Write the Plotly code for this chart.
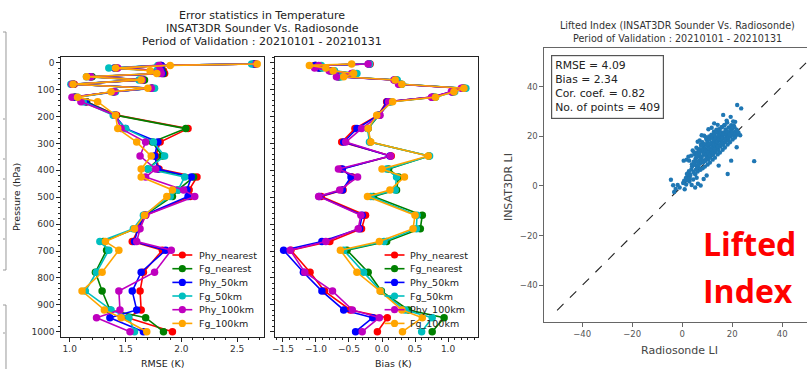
import plotly.graph_objects as go

W, H = 807, 369


def px(x):
    return x / W


def py(y):
    return 1 - y / H


# ---------------- data ----------------
levels = [5, 10, 20, 30, 40, 52, 64, 80, 95, 108, 128, 145, 195, 245, 295, 347, 395,
          425, 473, 497, 567, 617, 665, 697, 779, 849, 919, 948, 1000]

rmse_phy_nearest = [2.66, 1.82, 1.42, 1.84, 1.85, 1.19, 1.66, 1.04, 1.74, 1.40, 1.05, 1.15,
                    1.42, 2.06, 1.81, 1.77, 1.80, 2.14, 2.07, 2.08, 1.68, 1.62, 1.56, 1.83, 1.66, 1.63, 1.64, 1.52, 1.92]
rmse_fg_nearest = [2.66, 1.81, 1.41, 1.83, 1.84, 1.20, 1.67, 1.03, 1.73, 1.39, 1.04, 1.15,
                   1.41, 2.04, 1.74, 1.83, 1.70, 2.11, 1.97, 1.92, 1.67, 1.59, 1.30, 1.33, 1.23, 1.29, 1.36, 1.68, 1.84]
rmse_phy_50km = [2.65, 1.82, 1.40, 1.82, 1.83, 1.18, 1.65, 1.03, 1.74, 1.39, 1.05, 1.14,
                 1.40, 1.50, 1.79, 1.76, 1.79, 2.09, 2.05, 2.06, 1.67, 1.61, 1.58, 1.86, 1.64, 1.56, 1.60, 1.36, 1.66]
rmse_fg_50km = [2.63, 1.79, 1.35, 1.78, 1.80, 1.15, 1.62, 1.01, 1.76, 1.41, 1.07, 1.12,
                1.39, 1.50, 1.75, 1.85, 1.70, 2.03, 1.97, 1.90, 1.66, 1.57, 1.27, 1.35, 1.24, 1.14, 1.37, 1.53, 1.58]
rmse_phy_100km = [2.67, 1.80, 1.43, 1.81, 1.82, 1.19, 1.65, 1.02, 1.73, 1.40, 1.02, 1.10,
                  1.41, 1.46, 1.68, 1.63, 1.77, 1.68, 2.02, 2.12, 1.68, 1.63, 1.60, 1.91, 1.76, 1.44, 1.45, 1.24, 1.54]
rmse_fg_100km = [2.68, 1.90, 1.41, 1.72, 1.78, 1.15, 1.64, 1.03, 1.70, 1.37, 1.07, 1.25,
                 1.41, 1.43, 1.60, 1.73, 1.64, 1.64, 1.92, 1.87, 1.67, 1.58, 1.32, 1.44, 1.29, 1.11, 1.31, 1.46, 1.69]

bias_phy_nearest = [-0.18, -1.02, -0.95, -0.78, -0.45, -0.66, 0.20, 0.27, 1.22, 1.06, 0.76, 0.07,
                    -0.06, -0.41, -0.61, 0.14, -0.62, -0.45, -0.59, -0.92, -0.25, -0.31, -0.79, -1.38, -1.09, -0.87, -0.48, 0.08, -0.07]
bias_fg_nearest = [-0.20, -1.00, -0.93, -0.76, -0.42, -0.64, 0.22, 0.29, 1.25, 1.08, 0.79, 0.12,
                   -0.04, -0.21, -0.18, 0.71, 0.10, 0.25, 0.22, -0.13, 0.61, 0.58, 0.07, -0.53, -0.21, -0.01, 0.40, 0.94, 0.76]
bias_phy_50km = [-0.19, -1.01, -0.96, -0.79, -0.44, -0.67, 0.19, 0.27, 1.23, 1.06, 0.77, 0.08,
                 -0.05, -0.38, -0.58, 0.12, -0.60, -0.47, -0.60, -0.95, -0.30, -0.34, -0.91, -1.49, -1.19, -0.91, -0.58, -0.14, -0.40]
bias_fg_50km = [-0.19, -0.92, -0.90, -0.72, -0.38, -0.62, 0.23, 0.30, 1.27, 1.10, 0.81, 0.14,
                -0.05, -0.22, -0.19, 0.72, 0.07, 0.22, 0.20, -0.17, 0.53, 0.52, 0.03, -0.58, -0.28, -0.02, 0.35, 0.76, 0.60]
bias_phy_100km = [-0.21, -0.96, -1.02, -0.80, -0.46, -0.69, 0.18, 0.25, 1.20, 1.05, 0.75, 0.10,
                  -0.03, -0.31, -0.55, 0.13, -0.66, -0.37, -0.64, -0.96, -0.32, -0.36, -0.85, -1.39, -1.17, -0.75, -0.45, -0.04, -0.30]
bias_fg_100km = [-0.46, -1.10, -0.85, -0.74, -0.43, -0.58, 0.20, 0.30, 1.24, 1.09, 0.81, 0.16,
                 -0.08, -0.21, -0.17, 0.70, 0.00, 0.34, 0.12, -0.22, 0.50, 0.47, -0.04, -0.63, -0.38, -0.03, 0.30, 0.61, 0.31]

series_names = ["Phy_nearest", "Fg_nearest", "Phy_50km", "Fg_50km", "Phy_100km", "Fg_100km"]
series_colors = ["#ff0000", "#008000", "#0000ff", "#00bfbf", "#bf00bf", "#ffa500"]
rmse_series = [rmse_phy_nearest, rmse_fg_nearest, rmse_phy_50km, rmse_fg_50km, rmse_phy_100km, rmse_fg_100km]
bias_series = [bias_phy_nearest, bias_fg_nearest, bias_phy_50km, bias_fg_50km, bias_phy_100km, bias_fg_100km]

rmse_ticks = [1.0, 1.5, 2.0, 2.5]
bias_ticks = [-1.5, -1.0, -0.5, 0.0, 0.5, 1.0]
pressure_ticks = [0, 100, 200, 300, 400, 500, 600, 700, 800, 900, 1000]
li_ticks = [-40, -20, 0, 20, 40]

li_radiosonde = [
    -4.5, -3.2, -2.6, -1.8, -3.6, -1.0, 0.4, 1.0, 1.6, 2.2, 2.9, 2.6, 3.8, 5.2, 6.3, 7.4, 4.4, 5.8, 8.6, 9.8,
    18.2, 19.6, 28.8, 22.0, 23.6, 19.4, 21.2, 16.4, 12.8, 7.8, 3.6, 2.8, 14.6, 21.8, 23.2, 10.5, 6.2,
    0.8, 1.5, 2.0, 3.0, 0.6, 1.8, 2.5, 4.2, 7.0, 8.8, 11.8, 14.2, 17.8, 20.4,
    3.3, 3.7, 4.0, 4.5, 4.8, 3.9, 2.7, 1.9,
    5.2, 5.5, 4.9, 5.3, 5.1, 4.8, 5.7, 5.9, 4.6,
    6.2, 6.6, 6.0, 6.4, 6.1, 6.7, 5.7, 6.9, 6.3,
    7.3, 7.1, 7.5, 6.8, 7.2, 7.5, 7.7, 7.9, 7.0,
    8.2, 8.5, 7.8, 8.3, 8.6, 8.1, 8.7, 8.9, 8.4, 7.6,
    9.1, 9.4, 9.6, 8.9, 9.2, 9.0, 9.7, 9.8, 9.3, 9.5,
    10.2, 10.5, 9.9, 10.3, 10.6, 10.1, 10.8, 10.4, 10.0, 10.7,
    11.1, 11.3, 11.6, 10.9, 11.4, 11.0, 11.7, 11.8, 11.2, 11.5,
    12.2, 12.4, 11.9, 12.1, 12.6, 12.0, 12.7, 12.9, 12.3, 12.5,
    13.1, 13.4, 13.6, 12.9, 13.3, 13.0, 13.7, 13.8, 13.2, 13.5,
    14.2, 14.4, 13.9, 14.1, 14.6, 14.0, 14.7, 14.9, 14.3, 14.5,
    15.1, 15.3, 15.6, 14.9, 15.4, 15.0, 15.7, 15.8, 15.2, 15.5,
    16.2, 16.4, 15.9, 16.1, 16.6, 16.0, 16.8, 16.3, 16.5,
    17.1, 17.3, 17.6, 16.9, 17.4, 17.0, 17.8, 17.2,
    18.2, 18.5, 17.9, 18.1, 18.6, 18.0, 18.4,
    19.1, 19.4, 18.9, 19.3, 19.6, 19.0,
    20.2, 20.4, 19.9, 20.6, 20.0,
    21.1, 21.4, 20.9, 21.7,
    22.2, 21.8, 22.5,
]
li_insat = [
    2.5, -2.4, -1.2, 0.4, 0.3, -0.6, 1.2, -1.3, 0.6, 3.6, 1.8, 5.2, 0.4, -0.6, 0.9, 0.2, 2.6, 3.3, 2.8, 4.2,
    4.8, 10.2, 10.0, 32.6, 31.2, 27.8, 25.8, 28.6, 25.2, 20.4, 12.2, 10.2, 8.2, 15.6, 20.4, 22.8, 17.8,
    2.1, 3.2, 2.4, 3.2, 10.2, 10.6, 11.8, 14.3, 18.3, 20.2, 23.4, 24.6, 26.3, 26.0,
    4.4, 6.8, 7.9, 5.6, 9.4, 8.7, 5.9, 4.8,
    4.7, 6.6, 8.5, 10.9, 12.6, 13.5, 11.4, 7.7, 9.8,
    5.8, 7.5, 9.7, 11.9, 13.6, 14.8, 15.4, 10.3, 8.4,
    6.5, 8.9, 10.6, 12.8, 14.7, 16.6, 11.7, 9.4, 13.9,
    7.1, 9.6, 11.8, 13.7, 15.9, 17.6, 12.6, 10.4, 14.8, 16.2,
    7.8, 10.1, 12.4, 13.3, 15.0, 16.8, 18.7, 11.6, 14.1, 19.6,
    8.6, 10.8, 12.9, 14.2, 15.7, 17.7, 19.9, 13.6, 16.4, 11.5,
    9.4, 11.9, 13.4, 15.1, 16.9, 18.8, 20.6, 14.6, 12.3, 17.3,
    10.6, 12.7, 14.9, 15.8, 17.6, 19.7, 21.8, 16.4, 13.6, 18.5,
    11.4, 13.8, 15.6, 16.8, 18.7, 20.5, 22.6, 17.9, 14.5, 19.3,
    12.7, 14.6, 16.7, 17.8, 19.5, 21.6, 22.8, 18.4, 15.8, 20.4,
    13.5, 15.9, 17.7, 18.9, 20.8, 22.5, 23.6, 19.7, 16.6, 21.4,
    14.6, 16.6, 18.8, 19.6, 21.5, 23.7, 24.4, 17.4, 20.7,
    15.5, 17.8, 19.6, 20.9, 22.7, 24.6, 21.8, 18.6,
    16.7, 18.6, 20.8, 21.7, 23.5, 25.5, 19.4,
    17.6, 19.9, 21.5, 22.9, 24.5, 20.6,
    18.7, 20.6, 22.8, 24.4, 21.7,
    19.5, 21.8, 23.6, 20.6,
    20.8, 22.6, 21.5,
]
one_to_one = [-50, 50]

stats_labels = ["RMSE", "Bias", "Cor. coef.", "No. of points"]
stats_values = ["4.09", "2.34", "0.82", "409"]

# ---------------- figure ----------------
FONT = "DejaVu Sans"
fig = go.Figure()

for vals, name, col in zip(rmse_series, series_names, series_colors):
    fig.add_trace(go.Scatter(x=vals, y=levels, mode="lines+markers", name=name,
                             xaxis="x", yaxis="y", showlegend=False,
                             line=dict(color=col, width=1.6),
                             marker=dict(color=col, size=7.5)))
for vals, name, col in zip(bias_series, series_names, series_colors):
    fig.add_trace(go.Scatter(x=vals, y=levels, mode="lines+markers", name=name,
                             xaxis="x2", yaxis="y2", showlegend=False,
                             line=dict(color=col, width=1.6),
                             marker=dict(color=col, size=7.5)))

fig.add_trace(go.Scatter(x=one_to_one, y=one_to_one, mode="lines", xaxis="x3", yaxis="y3",
                         showlegend=False, line=dict(color="#222", width=1.1, dash="dash")))
fig.add_trace(go.Scatter(x=li_radiosonde, y=li_insat, mode="markers", xaxis="x3", yaxis="y3",
                         showlegend=False, marker=dict(color="#1f77b4", size=4.4, line=dict(width=0))))

tick_font = dict(family=FONT, size=9, color="#333")
common = dict(showgrid=False, zeroline=False, showline=True, linecolor="#222", linewidth=1,
              ticks="outside", ticklen=3.5, tickwidth=1, tickcolor="#222", tickfont=tick_font)

y_top, y_bot = 57, 337
fig.update_layout(
    width=W, height=H, margin=dict(l=0, r=0, t=0, b=0),
    paper_bgcolor="white", plot_bgcolor="white",
    font=dict(family=FONT, color="#222"),
    xaxis=dict(domain=[px(58), px(262)], range=[0.9196, 2.741], anchor="y", mirror=True,
               tickvals=rmse_ticks, tickformat=".1f",
               minor=dict(dtick=0.1, tick0=1.0, ticks="outside", ticklen=2, tickcolor="#222"),
               **common),
    yaxis=dict(domain=[py(y_bot), py(y_top)], range=[1019.7, -21.2], anchor="x", mirror=True,
               tickvals=pressure_ticks,
               minor=dict(dtick=20, tick0=0, ticks="outside", ticklen=2, tickcolor="#222"),
               **common),
    xaxis2=dict(domain=[px(273), px(477)], range=[-1.6207, 1.457], anchor="y2", mirror=True,
                tickvals=bias_ticks, tickformat=".1f",
                minor=dict(dtick=0.1, tick0=0, ticks="outside", ticklen=2, tickcolor="#222"),
                **common),
    yaxis2=dict(domain=[py(y_bot), py(y_top)], range=[1019.7, -21.2], anchor="x2", mirror=True,
                tickvals=pressure_ticks, showticklabels=False,
                minor=dict(dtick=20, tick0=0, ticks="outside", ticklen=2, tickcolor="#222"),
                **common),
    xaxis3=dict(domain=[px(543), 1.0], range=[-55.26, 49.92], anchor="y3", mirror=True,
                tickvals=li_ticks, showgrid=False, zeroline=False, showline=True,
                linecolor="#666", linewidth=1, ticks="outside", ticklen=3.5, tickcolor="#666",
                tickfont=dict(family=FONT, size=8.5, color="#555")),
    yaxis3=dict(domain=[py(322), py(48)], range=[-54.7, 55.5], anchor="x3", mirror=False,
                tickvals=li_ticks, showgrid=False, zeroline=False, showline=True,
                linecolor="#666", linewidth=1, ticks="outside", ticklen=3.5, tickcolor="#666",
                tickfont=dict(family=FONT, size=8.5, color="#555")),
)

ann = []


def text(x, y, s, size, color="#222", angle=0, xanchor="center", family=FONT, bold=False):
    ann.append(dict(x=px(x), y=py(y), xref="paper", yref="paper", text=s, showarrow=False,
                    xanchor=xanchor, yanchor="middle", textangle=angle,
                    font=dict(family=family, size=size, color=color,
                              weight="bold" if bold else "normal")))


# main titles
text(260, 15, "Error statistics in Temperature", 11)
text(260, 28.5, "INSAT3DR Sounder Vs. Radiosonde", 11)
text(260, 42, "Period of Validation : 20210101 - 20210131", 11)
# axis titles
text(13, 197, "Pressure (hPa)", 9.5, angle=-90)
text(161, 363, "RMSE (K)", 9.5)
text(392, 363, "Bias (K)", 9.5)

# scatter titles
text(677, 25, "Lifted Index (INSAT3DR Sounder Vs. Radiosonde)", 9.6, color="#333")
text(677, 38, "Period of Validation : 20210101 - 20210131", 9.6, color="#333")
text(507, 187, "INSAT3DR LI", 11, color="#444", angle=-90)
text(679, 350, "Radiosonde LI", 11, color="#444")

# stats box
stats_text = "<br>".join(f"{k} = {v}" for k, v in zip(stats_labels, stats_values))
ann.append(dict(x=px(550), y=py(55), xref="paper", yref="paper", text=stats_text, showarrow=False,
                xanchor="left", yanchor="top", align="left",
                font=dict(family=FONT, size=10.8, color="#222"),
                bordercolor="#555", borderwidth=1.2, borderpad=3, bgcolor="white"))

# Big red label
text(749, 243, "Lifted", 32, color="#ff0000", family="Open Sans", bold=True)
text(748, 290, "Index", 32, color="#ff0000", family="Open Sans", bold=True)

# legends (drawn manually to match compact spacing)
shapes = []
leg_y = [255, 268.7, 282.4, 296, 309.7, 323.4]
for x0, tx in [(170, 195), (383, 407)]:
    for yy, name, col in zip(leg_y, series_names, series_colors):
        shapes.append(dict(type="line", xref="paper", yref="paper", x0=px(x0), x1=px(x0 + 20),
                           y0=py(yy), y1=py(yy), line=dict(color=col, width=1.6)))
        r = 3.6
        shapes.append(dict(type="circle", xref="paper", yref="paper",
                           x0=px(x0 + 10 - r), x1=px(x0 + 10 + r), y0=py(yy + r), y1=py(yy - r),
                           fillcolor=col, line=dict(color=col, width=0)))
        text(tx, yy, name, 9.5, xanchor="left")

# left edge fragments of neighbouring figure
edge = "#999"
shapes.append(dict(type="line", xref="paper", yref="paper", x0=px(3), x1=px(3), y0=py(32), y1=py(270),
                   line=dict(color=edge, width=1)))
for yy in [32, 270]:
    shapes.append(dict(type="line", xref="paper", yref="paper", x0=0, x1=px(3), y0=py(yy), y1=py(yy),
                       line=dict(color=edge, width=1)))
for yy in [119, 159, 179, 199, 219, 239]:
    shapes.append(dict(type="line", xref="paper", yref="paper", x0=0, x1=px(2), y0=py(yy), y1=py(yy),
                       line=dict(color=edge, width=1)))
shapes.append(dict(type="line", xref="paper", yref="paper", x0=px(3), x1=px(3), y0=py(305), y1=0,
                   line=dict(color=edge, width=1)))
shapes.append(dict(type="line", xref="paper", yref="paper", x0=0, x1=px(3), y0=py(305), y1=py(305),
                   line=dict(color=edge, width=1)))
shapes.append(dict(type="line", xref="paper", yref="paper", x0=0, x1=px(2), y0=py(333), y1=py(333),
                   line=dict(color=edge, width=1)))

fig.update_layout(annotations=ann, shapes=shapes)
fig.write_html("out.html",
               config={"displayModeBar": False, "staticPlot": True},
               post_script="document.body.style.margin='0';document.body.style.padding='0';"
                           "document.body.style.overflow='hidden';window.dispatchEvent(new Event('resize'));")
